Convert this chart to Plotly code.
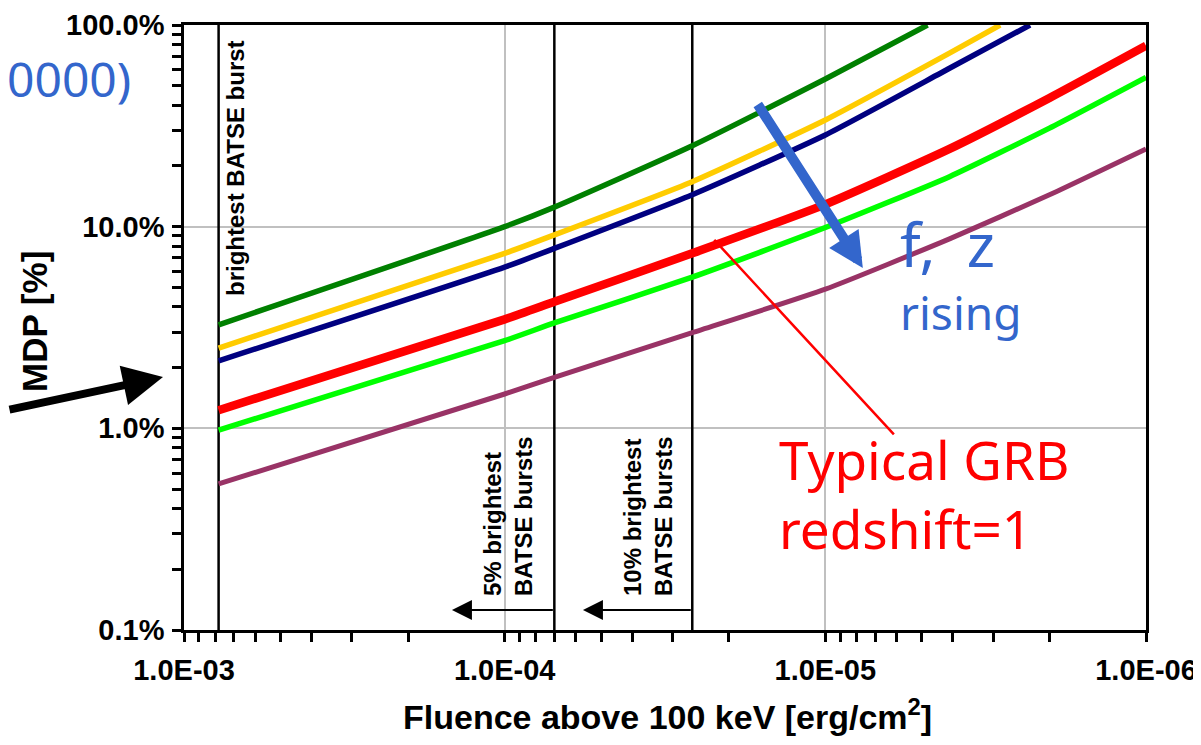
import numpy as np
import plotly.graph_objects as go

# ---------------- data ----------------
fluence_low = [7.8e-4, 1.0e-4, 7.0e-5, 2.6e-5, 1.0e-5, 4.1e-6, 2.0e-6, 1.0e-6]
mdp_red = [1.23, 3.47, 4.24, 7.38, 12.9, 24.3, 43.5, 79.0]
mdp_lime = [0.98, 2.72, 3.33, 5.62, 9.9, 17.7, 30.8, 55.0]
mdp_purple = [0.53, 1.48, 1.79, 2.98, 4.9, 8.7, 14.4, 24.3]

fluence_green = [7.8e-4, 1.0e-4, 7.0e-5, 2.6e-5, 1.0e-5, 4.8e-6]
mdp_green = [3.26, 10.0, 12.5, 25.2, 54.0, 100.0]
fluence_yellow = [7.8e-4, 1.0e-4, 7.0e-5, 2.6e-5, 1.0e-5, 4.1e-6, 2.85e-6]
mdp_yellow = [2.5, 7.37, 9.1, 16.7, 33.8, 72.5, 100.0]
fluence_navy = [7.8e-4, 1.0e-4, 7.0e-5, 2.6e-5, 1.0e-5, 4.1e-6, 2.3e-6]
mdp_navy = [2.16, 6.3, 7.8, 14.4, 28.5, 61.0, 100.0]

burst_lines = [7.8e-4, 7.0e-5, 2.6e-5]   # brightest, 5% brightest, 10% brightest

x_tickvals = [1e-3, 1e-4, 1e-5, 1e-6]
x_ticktext = ["1.0E-03", "1.0E-04", "1.0E-05", "1.0E-06"]
y_tickvals = [0.1, 1, 10, 100]
y_ticktext = ["0.1%", "1.0%", "10.0%", "100.0%"]

# ---------------- figure ----------------
PAGE_PAD = 8                      # default body margin of the html page
W, H = 1201, 745
ML, MT = 176, 17
PW, PH = 962, 605
MR, MB = W - ML - PW, H - MT - PH


def px(xp):   # page pixel x -> paper
    return (xp - PAGE_PAD - ML) / PW


def py(yp):   # page pixel y -> paper
    return (MT + PH - (yp - PAGE_PAD)) / PH


fig = go.Figure()

for xv in burst_lines:
    fig.add_trace(go.Scatter(x=[xv, xv], y=[0.1, 100], mode="lines",
                             line=dict(color="black", width=2.5),
                             hoverinfo="skip", showlegend=False))

series = [
    (fluence_green, mdp_green, "#008000", 5.5),
    (fluence_yellow, mdp_yellow, "#FFCC00", 5.5),
    (fluence_navy, mdp_navy, "#000080", 5.5),
    (fluence_low, mdp_red, "#FF0000", 8.5),
    (fluence_low, mdp_lime, "#00FF00", 5.5),
    (fluence_low, mdp_purple, "#993366", 5),
]
for xs, ys, col, w in series:
    fig.add_trace(go.Scatter(x=xs, y=ys, mode="lines",
                             line=dict(color=col, width=w, shape="spline", smoothing=0.5),
                             showlegend=False))

tickfont = dict(family="Liberation Sans", size=29, color="black", weight="bold")
axis_common = dict(type="log", showline=True, linecolor="black", linewidth=2.5,
                   mirror=True, ticks="outside", ticklen=9, tickwidth=2.5,
                   tickcolor="black", showgrid=True, gridcolor="#C0C0C0",
                   gridwidth=2, zeroline=False, tickfont=tickfont, automargin=False,
                   minor=dict(ticks="outside", ticklen=9, tickwidth=2.5,
                              tickcolor="black", dtick="D1", showgrid=False))

fig.update_xaxes(range=[-3, -6], tickmode="array", tickvals=x_tickvals,
                 ticktext=x_ticktext, ticklabelstandoff=3, **axis_common)
fig.update_yaxes(range=[-1, 2], tickmode="array", tickvals=y_tickvals,
                 ticktext=y_ticktext, ticklabelstandoff=2, **axis_common)

blue = "#3366CC"
ann = []
# axis titles
ann.append(dict(xref="paper", yref="paper", x=px(667), y=py(714), xanchor="center",
                yanchor="middle", showarrow=False,
                text="Fluence above 100 keV [erg/cm<sup>2</sup>]",
                font=dict(family="Liberation Sans", size=34, color="black", weight="bold")))
ann.append(dict(xref="paper", yref="paper", x=px(34), y=py(322), xanchor="center",
                yanchor="middle", showarrow=False, textangle=-90, text="MDP [%]",
                font=dict(family="Liberation Sans", size=35, color="black", weight="bold")))
# rotated labels
lab_font = dict(family="Liberation Sans", size=24, color="black", weight="bold")
ann.append(dict(xref="paper", yref="paper", x=px(236), y=py(168), xanchor="center",
                yanchor="middle", showarrow=False, textangle=-90,
                text="brightest BATSE burst", font=lab_font))
ann.append(dict(xref="paper", yref="paper", x=px(508), y=py(598), xanchor="center",
                yanchor="bottom", showarrow=False, textangle=-90, align="left",
                text="5% brightest<br>BATSE bursts", font=lab_font))
ann.append(dict(xref="paper", yref="paper", x=px(648), y=py(598), xanchor="center",
                yanchor="bottom", showarrow=False, textangle=-90, align="left",
                text="10% brightest<br>BATSE bursts", font=lab_font))
# left-pointing arrows at the bottom
ann.append(dict(xref="x", yref="y", axref="x", ayref="y",
                x=np.log10(1.46e-4), y=np.log10(0.1256),
                ax=np.log10(burst_lines[1]), ay=np.log10(0.1256),
                text="", showarrow=True, arrowhead=2, arrowsize=2, arrowwidth=2,
                arrowcolor="black", standoff=0))
ann.append(dict(xref="x", yref="y", axref="x", ayref="y",
                x=np.log10(5.7e-5), y=np.log10(0.1256),
                ax=np.log10(burst_lines[2]), ay=np.log10(0.1256),
                text="", showarrow=True, arrowhead=2, arrowsize=2, arrowwidth=2,
                arrowcolor="black", standoff=0))
# red callout
ann.append(dict(xref="x", yref="y", x=np.log10(2.22e-5), y=np.log10(8.6),
                ax=181, ay=196, text="", showarrow=True, arrowhead=0,
                arrowwidth=2.5, arrowcolor="#FF0000", standoff=0))
ann.append(dict(xref="paper", yref="paper", x=px(777), y=py(494), xanchor="left",
                yanchor="middle", showarrow=False, align="left",
                text="Typical GRB<br>redshift=1",
                font=dict(family="Noto Sans", size=53, color="#FF0000")))
# blue arrow and text
ann.append(dict(xref="x", yref="y", x=np.log10(7.64e-6), y=np.log10(6.24),
                ax=-106, ay=-165, text="", showarrow=True, arrowhead=2,
                arrowsize=0.7, arrowwidth=10, arrowcolor=blue, standoff=0))
ann.append(dict(xref="paper", yref="paper", x=px(898), y=py(244), xanchor="left",
                yanchor="middle", showarrow=False, text="f,\u00a0\u00a0z",
                font=dict(family="Noto Sans", size=60, color=blue)))
ann.append(dict(xref="paper", yref="paper", x=px(898), y=py(312), xanchor="left",
                yanchor="middle", showarrow=False, text="rising",
                font=dict(family="Noto Sans", size=46, color=blue)))
ann.append(dict(xref="paper", yref="paper", x=px(133), y=py(78), xanchor="right",
                yanchor="middle", showarrow=False, text="0000)",
                font=dict(family="Noto Sans", size=48, color=blue)))
# black arrow at left
ann.append(dict(xref="paper", yref="paper", x=px(163), y=py(377), ax=-165, ay=33,
                text="", showarrow=True, arrowhead=2, arrowsize=1, arrowwidth=8,
                arrowcolor="black", standoff=0))

fig.update_layout(width=W, height=H, autosize=False,
                  margin=dict(l=ML, r=MR, t=MT, b=MB),
                  plot_bgcolor="white", paper_bgcolor="white",
                  annotations=ann, showlegend=False)

fig.write_html("out.html")
